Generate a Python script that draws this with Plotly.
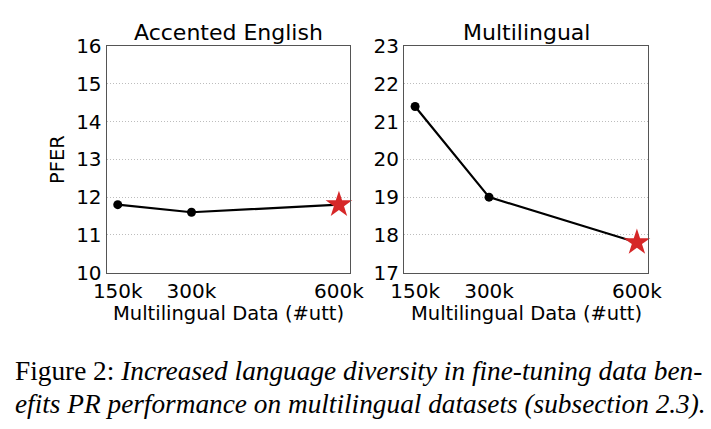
import plotly.graph_objects as go

x_vals = [150, 300, 600]
x_ticklabels = ["150k", "300k", "600k"]
accented = [11.8, 11.6, 11.8]
multi = [21.4, 19.0, 17.8]
titles = ["Accented English", "Multilingual"]
y_label = "PFER"
x_label = "Multilingual Data (#utt)"
caption1 = "Figure 2: <i>Increased language diversity in fine-tuning data ben-</i>"
caption2 = "<i>efits PR performance on multilingual datasets (subsection 2.3).</i>"

W, H = 711, 429
FONT = "DejaVu Sans"
fig = go.Figure()

def add_panel(series, xa, ya):
    fig.add_trace(go.Scatter(x=x_vals, y=series, mode="lines", xaxis=xa, yaxis=ya,
                             line=dict(color="black", width=2.2), showlegend=False))
    fig.add_trace(go.Scatter(x=x_vals[:-1], y=series[:-1], mode="markers", xaxis=xa, yaxis=ya,
                             marker=dict(color="black", size=9), showlegend=False))
    fig.add_trace(go.Scatter(x=x_vals[-1:], y=series[-1:], mode="markers", xaxis=xa, yaxis=ya,
                             cliponaxis=False,
                             marker=dict(color="#d62728", size=20, symbol="star",
                                         line=dict(width=0)), showlegend=False))

add_panel(accented, "x", "y")
add_panel(multi, "x2", "y2")

xrange = [127.5, 622.5]
ydom = [1 - 272.7 / H, 1 - 46 / H]
common_x = dict(range=xrange, tickvals=x_vals, ticktext=x_ticklabels, showgrid=False,
                showline=True, mirror=True, linecolor="#555555", linewidth=1.2,
                ticks="", zeroline=False, automargin=False,
                tickfont=dict(family=FONT, size=20, color="black"))
common_y = dict(showgrid=True, gridcolor="#bdbdbd", griddash="1px,2px", gridwidth=0.9,
                showline=True, mirror=True, linecolor="#555555", linewidth=1.2,
                ticks="", zeroline=False, dtick=1, automargin=False,
                tickfont=dict(family=FONT, size=20, color="black"))

fig.update_layout(
    width=W, height=H, margin=dict(l=0, r=0, t=0, b=0),
    plot_bgcolor="white", paper_bgcolor="white",
    xaxis=dict(domain=[106.7 / W, 350 / W], anchor="y", **common_x),
    yaxis=dict(domain=ydom, range=[10, 16], anchor="x", **common_y),
    xaxis2=dict(domain=[404 / W, 648 / W], anchor="y2", **common_x),
    yaxis2=dict(domain=ydom, range=[17, 23], anchor="x2", **common_y),
)

anns = [
    dict(text=titles[0], x=228.5 / W, y=1 - 32 / H),
    dict(text=titles[1], x=526 / W, y=1 - 32 / H),
    dict(text=x_label, x=228.5 / W, y=1 - 313 / H),
    dict(text=x_label, x=526 / W, y=1 - 313 / H),
]
for a in anns:
    fig.add_annotation(xref="paper", yref="paper", xanchor="center", yanchor="middle",
                       showarrow=False, font=dict(family=FONT, size=22 if a["text"] in titles else 19.5,
                                                  color="black"), **a)
fig.add_annotation(text=y_label, xref="paper", yref="paper", x=57 / W, y=1 - 160 / H,
                   textangle=-90, showarrow=False, xanchor="center", yanchor="middle",
                   font=dict(family=FONT, size=19.5, color="black"))
fig.add_annotation(text=caption1, xref="paper", yref="paper", x=13 / W, y=1 - 371 / H,
                   xanchor="left", yanchor="middle", showarrow=False,
                   font=dict(family="Liberation Serif", size=27.3, color="black"))
fig.add_annotation(text=caption2, xref="paper", yref="paper", x=13 / W, y=1 - 404 / H,
                   xanchor="left", yanchor="middle", showarrow=False,
                   font=dict(family="Liberation Serif", size=27.3, color="black"))

fig.write_html("out.html")
